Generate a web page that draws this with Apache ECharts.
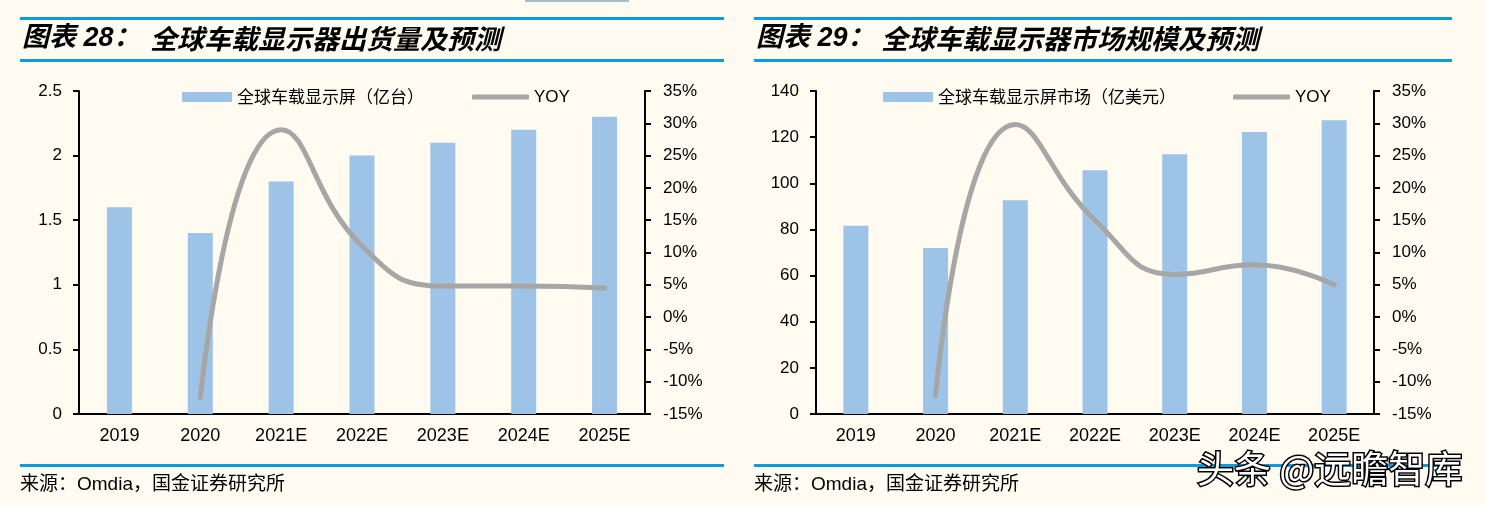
<!DOCTYPE html>
<html>
<head>
<meta charset="utf-8">
<script src="https://cdn.jsdelivr.net/npm/echarts@6/dist/echarts.min.js"></script>
<style>
html,body{margin:0;padding:0;background:#FFFBF0;}
#c{width:1485px;height:505px;}
</style>
</head>
<body>
<div id="c"></div>
<script>
// ---- data ----
const categories = ['2019', '2020', '2021E', '2022E', '2023E', '2024E', '2025E'];
const shipments = [1.6, 1.4, 1.8, 2.0, 2.1, 2.2, 2.3];            // 亿台
const shipmentsYoy = [null, -12.5, 29, 11, 4.8, 4.8, 4.5];        // %
const marketSize = [81.6, 72, 92.7, 105.7, 112.6, 122.2, 127.3];  // 亿美元
const marketYoy = [null, -12.2, 29.8, 15, 6.6, 8.1, 5];           // %
const shipAxis = [0, 2.5, 0.5];     // min, max, interval
const marketAxis = [0, 140, 20];
const yoyAxis = [-15, 35, 5];
const shipName = '全球车载显示屏（亿台）';
const marketName = '全球车载显示屏市场（亿美元）';
const yoyName = 'YOY';
const title1Prefix = '图表 28：';
const title1 = '全球车载显示器出货量及预测';
const title2Prefix = '图表 29：';
const title2 = '全球车载显示器市场规模及预测';
const sourceText = '来源：Omdia，国金证券研究所';
const watermark = '头条 @远瞻智库';

// ---- styles ----
const BAR = '#9DC3E6', LINE = '#A6A6A6', BLUE = '#0A9CDB', BG = '#FFFBF0';
const NUM_FONT = '"Liberation Sans", Arial, sans-serif';
const CJK_FONT = '"Noto Sans CJK SC", sans-serif';
const MIX_FONT = '"Liberation Sans", "Noto Sans CJK SC", sans-serif';

function xAxis(gi) {
  return {
    type: 'category', gridIndex: gi, data: categories,
    axisLine: { lineStyle: { color: '#000', width: 2 } },
    axisTick: { length: 6, lineStyle: { color: '#000', width: 2 } },
    axisLabel: { color: '#000', fontSize: 18, fontFamily: NUM_FONT, margin: 13 }
  };
}
function yAxis(gi, range, pos, pct) {
  return {
    type: 'value', gridIndex: gi, position: pos,
    min: range[0], max: range[1], interval: range[2],
    axisLine: { show: true, lineStyle: { color: '#000', width: 2 } },
    axisTick: { show: true, length: 6, lineStyle: { color: '#000', width: 2 } },
    splitLine: { show: false },
    axisLabel: { color: '#000', fontSize: 17, fontFamily: NUM_FONT, margin: pos === 'left' ? 17 : 18,
      formatter: pct ? '{value}%' : null }
  };
}
function legend(name, left, isLine) {
  return {
    data: [name], left: left, top: 88, padding: 0,
    itemWidth: isLine ? 57 : 50, itemHeight: isLine ? 5 : 10,
    icon: isLine ? 'roundRect' : 'rect',
    selectedMode: false,
    textStyle: { color: '#000', fontSize: 17, lineHeight: 18,
      fontFamily: isLine ? NUM_FONT : CJK_FONT }
  };
}
function rect(x, y, w, h, color) {
  return { type: 'rect', silent: true, shape: { x: x, y: y, width: w, height: h }, style: { fill: color } };
}
function text(t, x, y, size, family, extra) {
  return { type: 'text', silent: true, z: 10,
    style: Object.assign({ text: t, x: x, y: y, fontSize: size, fontFamily: family, fill: '#000',
      verticalAlign: 'middle', align: 'left' }, extra || {}) };
}

const option = {
  backgroundColor: BG,
  animation: false,
  grid: [
    { left: 79, right: 840, top: 91, bottom: 91 },
    { left: 816, right: 111, top: 91, bottom: 91 }
  ],
  xAxis: [xAxis(0), xAxis(1)],
  yAxis: [
    yAxis(0, shipAxis, 'left', false),
    yAxis(0, yoyAxis, 'right', true),
    yAxis(1, marketAxis, 'left', false),
    yAxis(1, yoyAxis, 'right', true)
  ],
  legend: [
    legend(shipName, 182, false),
    legend(yoyName, 472, true),
    legend(marketName, 883, false),
    legend(yoyName, 1233, true)
  ],
  series: [
    { name: shipName, type: 'bar', xAxisIndex: 0, yAxisIndex: 0, data: shipments, barWidth: 25,
      itemStyle: { color: BAR } },
    { name: yoyName, type: 'line', xAxisIndex: 0, yAxisIndex: 1, data: shipmentsYoy, smooth: 0.5,
      showSymbol: false, symbol: 'none', z: 5, itemStyle: { color: LINE },
      lineStyle: { color: LINE, width: 5, cap: 'round', join: 'round' } },
    { name: marketName, type: 'bar', xAxisIndex: 1, yAxisIndex: 2, data: marketSize, barWidth: 25,
      itemStyle: { color: BAR } },
    { name: yoyName, type: 'line', xAxisIndex: 1, yAxisIndex: 3, data: marketYoy, smooth: 0.5,
      showSymbol: false, symbol: 'none', z: 5, itemStyle: { color: LINE },
      lineStyle: { color: LINE, width: 5, cap: 'round', join: 'round' } }
  ],
  graphic: [
    rect(525, 0, 104, 2, '#A3BDCD'),
    // chart 1 frame lines
    rect(20, 17, 704, 3, BLUE),
    rect(20, 59, 704, 3, BLUE),
    rect(20, 464, 704, 3, BLUE),
    // chart 2 frame lines
    rect(754, 17, 698, 3, BLUE),
    rect(754, 59, 698, 3, BLUE),
    rect(754, 464, 698, 3, BLUE),
    // titles
    text(title1Prefix, 22, 39, 27, MIX_FONT, { fontWeight: 'bold', fontStyle: 'italic' }),
    text(title1, 150, 39, 27, CJK_FONT, { fontWeight: 'bold', fontStyle: 'italic' }),
    text(title2Prefix, 756, 39, 27, MIX_FONT, { fontWeight: 'bold', fontStyle: 'italic' }),
    text(title2, 881, 39, 27, CJK_FONT, { fontWeight: 'bold', fontStyle: 'italic' }),
    // sources
    text(sourceText, 20, 485, 19, MIX_FONT),
    text(sourceText, 754, 485, 19, MIX_FONT),
    // watermark
    text(watermark, 1197, 469, 37, CJK_FONT, { fill: '#ffffff', stroke: '#000000', lineWidth: 3,
      shadowColor: 'rgba(0,0,0,0.9)', shadowOffsetX: 2, shadowOffsetY: 2, shadowBlur: 0 })
  ]
};

const chart = echarts.init(document.getElementById('c'), null, { renderer: 'canvas' });
chart.setOption(option);
</script>
</body>
</html>
